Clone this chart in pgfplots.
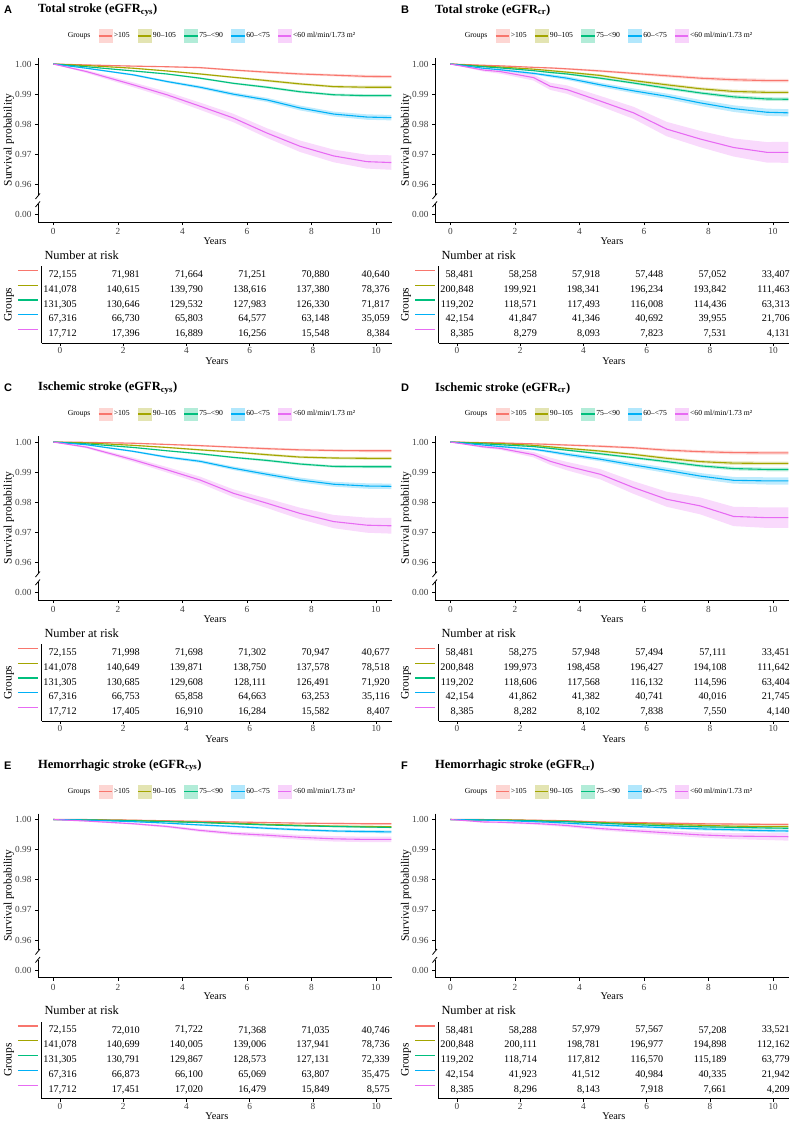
\documentclass[border=0pt]{standalone}
\usepackage{fontspec}
\setmainfont{Liberation Serif}
\newfontfamily\lettfont{Liberation Sans}
\usepackage{pgfplots}
\pgfplotsset{compat=1.18}
\usepackage{pgfplotstable}
\usepgfplotslibrary{fillbetween}

\definecolor{c1}{HTML}{F8766D}
\definecolor{c2}{HTML}{A3A500}
\definecolor{c3}{HTML}{00BF7D}
\definecolor{c4}{HTML}{00B0F6}
\definecolor{c5}{HTML}{E76BF3}

\newcommand\ftick{\fontsize{9.3}{11}\selectfont}
\newcommand\flab{\fontsize{11.5}{13}\selectfont}
\newcommand\fyears{\fontsize{10.3}{12}\selectfont}
\newcommand\fnum{\fontsize{10.2}{12}\selectfont}
\newcommand\fnar{\fontsize{12.4}{14}\selectfont}
\newcommand\fleg{\fontsize{7.7}{9}\selectfont}
\newcommand\ftitle{\fontsize{12.5}{14}\selectfont}

% ---------------- survival data (t = years) ----------------
\pgfplotstableread{
t s1 s2 s3 s4 s5 h1 h4 h5
0 1 1 1 1 1 0 0 0
1.03 0.9997 0.9995 0.9991 0.9986 0.9975 0.0001 0.0002 0.0005
2.48 0.9993 0.9986 0.9977 0.9964 0.9931 0.0002 0.0003 0.0008
3.52 0.9991 0.9977 0.9967 0.9942 0.9898 0.0002 0.0004 0.0010
4.55 0.9988 0.9967 0.9953 0.9923 0.9860 0.0003 0.0005 0.0012
5.58 0.9980 0.9956 0.9936 0.9900 0.9821 0.0003 0.0006 0.0014
6.62 0.9973 0.9945 0.9923 0.9881 0.9771 0.0004 0.0007 0.0016
7.65 0.9967 0.9934 0.9908 0.9854 0.9727 0.0004 0.0008 0.0019
8.69 0.9963 0.9925 0.9898 0.9834 0.9695 0.0004 0.0008 0.0021
9.72 0.9959 0.9923 0.9895 0.9824 0.9676 0.0005 0.0009 0.0023
10.48 0.9958 0.9923 0.9895 0.9822 0.9673 0.0005 0.0009 0.0024
}\survA
\pgfplotstableread{
t s1 s2 s3 s4 s5 h1 h4 h5
0 1 1 1 1 1 0 0 0
1.03 0.9996 0.9993 0.9991 0.9986 0.9980 0.0001 0.0002 0.0005
1.55 0.9994 0.9990 0.9987 0.9981 0.9975 0.0002 0.0003 0.0007
2.58 0.9989 0.9983 0.9978 0.9969 0.9955 0.0002 0.0004 0.0010
3.10 0.9987 0.9978 0.9972 0.9961 0.9926 0.0003 0.0005 0.0012
3.62 0.9984 0.9973 0.9967 0.9953 0.9915 0.0003 0.0006 0.0014
4.65 0.9977 0.9962 0.9953 0.9931 0.9877 0.0004 0.0007 0.0017
5.68 0.9969 0.9945 0.9937 0.9911 0.9838 0.0004 0.0008 0.0020
6.71 0.9961 0.9931 0.9920 0.9893 0.9784 0.0005 0.0009 0.0024
7.75 0.9953 0.9918 0.9904 0.9871 0.9751 0.0005 0.0010 0.0027
8.78 0.9948 0.9909 0.9891 0.9852 0.9723 0.0006 0.0011 0.0030
9.81 0.9945 0.9906 0.9884 0.9840 0.9707 0.0006 0.0012 0.0034
10.48 0.9945 0.9906 0.9883 0.9838 0.9707 0.0006 0.0012 0.0035
}\survB
\pgfplotstableread{
t s1 s2 s3 s4 s5 h1 h4 h5
0 1 1 1 1 1 0 0 0
1.03 0.9999 0.9997 0.9994 0.9991 0.9983 0.0001 0.0002 0.0004
2.48 0.9996 0.9989 0.9982 0.9969 0.9941 0.0002 0.0003 0.0007
3.52 0.9992 0.9982 0.9971 0.9950 0.9908 0.0002 0.0004 0.0009
4.55 0.9988 0.9974 0.9961 0.9936 0.9874 0.0003 0.0005 0.0011
5.58 0.9983 0.9967 0.9949 0.9913 0.9830 0.0003 0.0006 0.0013
6.62 0.9978 0.9958 0.9939 0.9893 0.9797 0.0004 0.0007 0.0016
7.65 0.9974 0.9950 0.9927 0.9874 0.9763 0.0004 0.0008 0.0019
8.69 0.9972 0.9947 0.9919 0.9860 0.9736 0.0004 0.0008 0.0022
9.72 0.9971 0.9946 0.9918 0.9854 0.9724 0.0005 0.0009 0.0025
10.48 0.9971 0.9946 0.9918 0.9853 0.9722 0.0005 0.0009 0.0026
}\survC
\pgfplotstableread{
t s1 s2 s3 s4 s5 h1 h4 h5
0 1 1 1 1 1 0 0 0
1.03 0.9998 0.9997 0.9994 0.9990 0.9984 0.0001 0.0002 0.0004
1.55 0.9997 0.9995 0.9991 0.9985 0.9979 0.0002 0.0003 0.0005
2.58 0.9994 0.9989 0.9985 0.9976 0.9958 0.0002 0.0004 0.0009
3.10 0.9992 0.9984 0.9979 0.9968 0.9936 0.0003 0.0005 0.0012
3.62 0.9990 0.9979 0.9973 0.9959 0.9920 0.0003 0.0006 0.0014
4.65 0.9986 0.9970 0.9961 0.9943 0.9893 0.0004 0.0007 0.0017
5.68 0.9981 0.9959 0.9948 0.9924 0.9849 0.0004 0.0008 0.0021
6.71 0.9973 0.9946 0.9935 0.9906 0.9810 0.0005 0.0009 0.0025
7.75 0.9968 0.9935 0.9921 0.9887 0.9788 0.0005 0.0010 0.0028
8.78 0.9965 0.9930 0.9912 0.9873 0.9753 0.0006 0.0011 0.0032
9.81 0.9964 0.9929 0.9909 0.9871 0.9749 0.0006 0.0012 0.0034
10.48 0.9964 0.9929 0.9909 0.9871 0.9749 0.0006 0.0012 0.0034
}\survD
\pgfplotstableread{
t s1 s2 s3 s4 s5 h1 h4 h5
0 1 1 1 1 1 0 0 0
1.03 1 0.9999 0.9999 0.9998 0.9995 0.0001 0.0001 0.0002
2.48 0.9998 0.9997 0.9996 0.9993 0.9986 0.0001 0.0002 0.0003
3.52 0.9996 0.9994 0.9993 0.9988 0.9977 0.0001 0.0002 0.0004
4.55 0.9994 0.9991 0.9990 0.9982 0.9964 0.0002 0.0003 0.0005
5.58 0.9992 0.9988 0.9986 0.9977 0.9954 0.0002 0.0003 0.0006
6.62 0.9990 0.9984 0.9982 0.9971 0.9948 0.0002 0.0004 0.0007
7.65 0.9988 0.9981 0.9979 0.9966 0.9941 0.0002 0.0004 0.0008
8.69 0.9987 0.9978 0.9977 0.9962 0.9936 0.0003 0.0004 0.0009
9.72 0.9986 0.9977 0.9975 0.9960 0.9934 0.0003 0.0005 0.0009
10.48 0.9986 0.9976 0.9974 0.9959 0.9934 0.0003 0.0005 0.0009
}\survE
\pgfplotstableread{
t s1 s2 s3 s4 s5 h1 h4 h5
0 1 1 1 1 1 0 0 0
1.03 1 0.9999 0.9999 0.9998 0.9992 0.0001 0.0001 0.0003
1.55 0.9999 0.9999 0.9998 0.9997 0.9991 0.0001 0.0002 0.0003
2.58 0.9998 0.9997 0.9996 0.9993 0.9987 0.0001 0.0002 0.0004
3.10 0.9997 0.9995 0.9994 0.9991 0.9984 0.0002 0.0003 0.0005
3.62 0.9996 0.9994 0.9993 0.9988 0.9980 0.0002 0.0003 0.0005
4.65 0.9992 0.9990 0.9988 0.9982 0.9970 0.0002 0.0004 0.0006
5.68 0.9990 0.9987 0.9983 0.9977 0.9963 0.0002 0.0004 0.0007
6.71 0.9988 0.9984 0.9979 0.9973 0.9956 0.0003 0.0004 0.0008
7.75 0.9986 0.9981 0.9976 0.9969 0.9949 0.0003 0.0005 0.0009
8.78 0.9985 0.9978 0.9974 0.9966 0.9945 0.0003 0.0005 0.0010
9.81 0.9984 0.9977 0.9972 0.9963 0.9944 0.0003 0.0005 0.0012
10.48 0.9984 0.9977 0.9971 0.9962 0.9943 0.0003 0.0005 0.0013
}\survF

% ---------------- number at risk (g: 5 = top row) ----------------
\pgfplotstableread{
t g n
0 5 72,155
2 5 71,981
4 5 71,664
6 5 71,251
8 5 70,880
10 5 40,640
0 4 141,078
2 4 140,615
4 4 139,790
6 4 138,616
8 4 137,380
10 4 78,376
0 3 131,305
2 3 130,646
4 3 129,532
6 3 127,983
8 3 126,330
10 3 71,817
0 2 67,316
2 2 66,730
4 2 65,803
6 2 64,577
8 2 63,148
10 2 35,059
0 1 17,712
2 1 17,396
4 1 16,889
6 1 16,256
8 1 15,548
10 1 8,384
}\riskA
\pgfplotstableread{
t g n
0 5 58,481
2 5 58,258
4 5 57,918
6 5 57,448
8 5 57,052
10 5 33,407
0 4 200,848
2 4 199,921
4 4 198,341
6 4 196,234
8 4 193,842
10 4 111,463
0 3 119,202
2 3 118,571
4 3 117,493
6 3 116,008
8 3 114,436
10 3 63,313
0 2 42,154
2 2 41,847
4 2 41,346
6 2 40,692
8 2 39,955
10 2 21,706
0 1 8,385
2 1 8,279
4 1 8,093
6 1 7,823
8 1 7,531
10 1 4,131
}\riskB
\pgfplotstableread{
t g n
0 5 72,155
2 5 71,998
4 5 71,698
6 5 71,302
8 5 70,947
10 5 40,677
0 4 141,078
2 4 140,649
4 4 139,871
6 4 138,750
8 4 137,578
10 4 78,518
0 3 131,305
2 3 130,685
4 3 129,608
6 3 128,111
8 3 126,491
10 3 71,920
0 2 67,316
2 2 66,753
4 2 65,858
6 2 64,663
8 2 63,253
10 2 35,116
0 1 17,712
2 1 17,405
4 1 16,910
6 1 16,284
8 1 15,582
10 1 8,407
}\riskC
\pgfplotstableread{
t g n
0 5 58,481
2 5 58,275
4 5 57,948
6 5 57,494
8 5 57,111
10 5 33,451
0 4 200,848
2 4 199,973
4 4 198,458
6 4 196,427
8 4 194,108
10 4 111,642
0 3 119,202
2 3 118,606
4 3 117,568
6 3 116,132
8 3 114,596
10 3 63,404
0 2 42,154
2 2 41,862
4 2 41,382
6 2 40,741
8 2 40,016
10 2 21,745
0 1 8,385
2 1 8,282
4 1 8,102
6 1 7,838
8 1 7,550
10 1 4,140
}\riskD
\pgfplotstableread{
t g n
0 5 72,155
2 5 72,010
4 5 71,722
6 5 71,368
8 5 71,035
10 5 40,746
0 4 141,078
2 4 140,699
4 4 140,005
6 4 139,006
8 4 137,941
10 4 78,736
0 3 131,305
2 3 130,791
4 3 129,867
6 3 128,573
8 3 127,131
10 3 72,339
0 2 67,316
2 2 66,873
4 2 66,100
6 2 65,069
8 2 63,807
10 2 35,475
0 1 17,712
2 1 17,451
4 1 17,020
6 1 16,479
8 1 15,849
10 1 8,575
}\riskE
\pgfplotstableread{
t g n
0 5 58,481
2 5 58,288
4 5 57,979
6 5 57,567
8 5 57,208
10 5 33,521
0 4 200,848
2 4 200,111
4 4 198,781
6 4 196,977
8 4 194,898
10 4 112,162
0 3 119,202
2 3 118,714
4 3 117,812
6 3 116,570
8 3 115,189
10 3 63,779
0 2 42,154
2 2 41,923
4 2 41,512
6 2 40,984
8 2 40,335
10 2 21,942
0 1 8,385
2 1 8,296
4 1 8,143
6 1 7,918
8 1 7,661
10 1 4,209
}\riskF

\pgfplotsset{
  key/.style={legend image code/.code={%
      \fill[#1!30] (0pt,-6.3pt) rectangle (13.3pt,6.3pt);
      \draw[#1, line width=1.1pt] (0pt,0pt) -- (13.3pt,0pt);}},
  surv/.style={
    scale only axis, width=354pt, height=164pt,
    xmin=-0.475, xmax=10.5, ymin=0.94757, ymax=1.002,
    axis x line=bottom, axis y line=left,
    axis line style={-, line width=0.8pt, black},
    y axis line style={draw=none},
    xtick={0,2,...,10},
    ytick={0.95,0.96,0.97,0.98,0.99,1},
    yticklabels={0.00,0.96,0.97,0.98,0.99,1.00},
    tick align=outside, major tick length=3pt,
    tick style={black, line width=0.6pt},
    ticklabel style={font=\ftick, text=black!75},
    /pgf/number format/assume math mode=true,
    xlabel={Years}, ylabel={Survival probability},
    xlabel style={font=\fyears, at={(axis description cs:0.5,0)}, anchor=center, yshift=-19pt},
    ylabel style={font=\flab, at={(axis description cs:0,0.5)}, anchor=center, yshift=29pt},
    legend columns=-1,
    legend style={at={(0.5,1)}, anchor=center, yshift=22pt, xshift=-3.5pt,
      draw=none, fill=none, font=\fleg, inner sep=0pt,
      nodes={inner sep=1.2pt},
      /tikz/every even column/.append style={column sep=6.5pt}},
  },
  risk/.style={
    scale only axis, width=350.3pt, height=77pt,
    xmin=-0.579, xmax=10.5, ymin=0.4, ymax=5.6,
    axis x line=bottom, axis y line=left,
    axis line style={-, line width=0.8pt, black},
    xtick={0,2,...,10}, ytick=\empty,
    tick align=outside, major tick length=3pt,
    tick style={black, line width=0.6pt},
    ticklabel style={font=\ftick, text=black!75},
    xticklabel style={yshift=2pt},
    /pgf/number format/assume math mode=true,
    clip=false,
    xlabel={Years}, ylabel={Groups},
    xlabel style={font=\fyears, at={(axis description cs:0.5,0)}, anchor=center, yshift=-18pt},
    ylabel style={font=\flab, at={(axis description cs:0,0.5)}, anchor=center, yshift=32.7pt},
    title={Number at risk},
    title style={at={(axis description cs:0,1)}, anchor=west, xshift=2.6pt, yshift=5pt, font=\fnar, inner sep=0pt},
  },
  rnum/.style={only marks, mark=none, point meta=explicit symbolic, nodes near coords,
    every node near coord/.append style={anchor=east, inner sep=0pt, font=\fnum, text=black}},
}

\newcommand{\band}[4]{%
  \addplot[name path=bu#2, draw=none, forget plot] table[x=t, y expr=\thisrow{#2}+\thisrow{#3}]{#1};
  \addplot[name path=bl#2, draw=none, forget plot] table[x=t, y expr=\thisrow{#2}-\thisrow{#3}]{#1};
  \addplot[fill=#4, fill opacity=0.25, draw=none, forget plot] fill between[of=bu#2 and bl#2];
}

\newcommand{\survpanel}[5]{%
  \begin{axis}[surv, at={(38pt+#1pt,-222pt-#2pt)}, anchor=south west]
    \band{#3}{s1}{h1}{c1}
    \band{#3}{s2}{h1}{c2}
    \band{#3}{s3}{h1}{c3}
    \band{#3}{s4}{h4}{c4}
    \band{#3}{s5}{h5}{c5}
    \addplot[c1, line width=1.1pt, forget plot] table[x=t, y=s1]{#3};
    \addplot[c2, line width=1.1pt, forget plot] table[x=t, y=s2]{#3};
    \addplot[c3, line width=1.1pt, forget plot] table[x=t, y=s3]{#3};
    \addplot[c4, line width=1.1pt, forget plot] table[x=t, y=s4]{#3};
    \addplot[c5, line width=1.1pt, forget plot] table[x=t, y=s5]{#3};
    \addlegendimage{empty legend}\addlegendentry{Groups}
    \addlegendimage{key=c1}\addlegendentry{>105}
    \addlegendimage{key=c2}\addlegendentry{90--105}
    \addlegendimage{key=c3}\addlegendentry{75--<90}
    \addlegendimage{key=c4}\addlegendentry{60--<75}
    \addlegendimage{key=c5}\addlegendentry{<60 ml/min/1.73 m²}
  \end{axis}
  \draw[line width=0.8pt] (38pt+#1pt,-58pt-#2pt) -- (38pt+#1pt,-194.5pt-#2pt);
  \draw[line width=0.8pt] (35.5pt+#1pt,-199pt-#2pt) -- (40pt+#1pt,-193.5pt-#2pt);
  \draw[line width=0.8pt] (35.5pt+#1pt,-207pt-#2pt) -- (40pt+#1pt,-201.5pt-#2pt);
  \draw[line width=0.8pt] (38pt+#1pt,-204pt-#2pt) -- (38pt+#1pt,-222pt-#2pt);
  \node[anchor=west, inner sep=0pt, font=\lettfont\bfseries\fontsize{11}{13}\selectfont] at (4pt+#1pt,-10pt-#2pt) {#4};
  \node[anchor=west, inner sep=0pt, font=\bfseries\ftitle] at (38pt+#1pt,-10pt-#2pt) {#5};
}

\newcommand{\seg}[2]{%
  \draw[#1, line width=1.2pt] ([xshift=-23.7pt, yshift=4.5pt]axis cs:-0.579,#2) -- ([xshift=-3.7pt, yshift=4.5pt]axis cs:-0.579,#2);
}

\newcommand{\riskpanel}[4]{%
  \begin{axis}[risk, at={(41.7pt+#1pt,-343pt-#2pt)}, anchor=south west]
    \addplot[rnum, restrict x to domain=-1:9, every node near coord/.append style={xshift=16.8pt}] table[x=t, y=g, meta=n]{#3};
    \addplot[rnum, restrict x to domain=9.5:11, every node near coord/.append style={xshift=#4pt}] table[x=t, y=g, meta=n]{#3};
    \seg{c1}{5}
    \seg{c2}{4}
    \seg{c3}{3}
    \seg{c4}{2}
    \seg{c5}{1}
  \end{axis}
}

\begin{document}
\begin{tikzpicture}
\survpanel{0}{0}{\survA}{A}{Total stroke (eGFR\textsubscript{cys})}
\riskpanel{0}{0}{\riskA}{13.8}
\survpanel{397}{0}{\survB}{B}{Total stroke (eGFR\textsubscript{cr})}
\riskpanel{397}{0}{\riskB}{16.8}
\survpanel{0}{378}{\survC}{C}{Ischemic stroke (eGFR\textsubscript{cys})}
\riskpanel{0}{378}{\riskC}{13.8}
\survpanel{397}{378}{\survD}{D}{Ischemic stroke (eGFR\textsubscript{cr})}
\riskpanel{397}{378}{\riskD}{16.8}
\survpanel{0}{755.5}{\survE}{E}{Hemorrhagic stroke (eGFR\textsubscript{cys})}
\riskpanel{0}{755.5}{\riskE}{13.8}
\survpanel{397}{755.5}{\survF}{F}{Hemorrhagic stroke (eGFR\textsubscript{cr})}
\riskpanel{397}{755.5}{\riskF}{16.8}
\path (0pt,0pt) rectangle (793pt,-1126pt);
\end{tikzpicture}
\end{document}
